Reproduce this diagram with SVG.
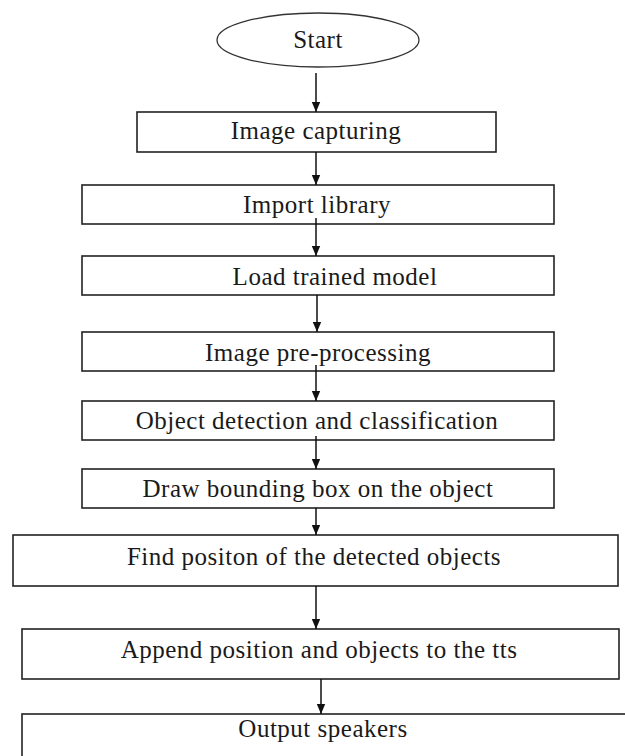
<svg xmlns="http://www.w3.org/2000/svg" width="625" height="756" viewBox="0 0 625 756">
  <defs>
    <style>
      .box { fill: #ffffff; stroke: #222222; stroke-width: 1.6; }
      .term { fill: #ffffff; stroke: #333333; stroke-width: 1.3; }
      .lbl { font-family: "Liberation Serif", "Times New Roman", serif; font-size: 25px; letter-spacing: 0.5px; fill: #1a1a1a; text-anchor: middle; }
      .conn { stroke: #111111; stroke-width: 1.5; fill: none; marker-end: url(#arrow); }
    </style>
    <marker id="arrow" markerUnits="userSpaceOnUse" markerWidth="10" markerHeight="10" viewBox="0 0 10 10" refX="10" refY="5" orient="auto">
      <path d="M0,0.8 L10,5 L0,9.2 Z" fill="#111111"/>
    </marker>
  </defs>
  <rect width="625" height="756" fill="#ffffff"/>

  <g id="start">
    <ellipse class="term" cx="318" cy="40" rx="101" ry="27"/>
    <text class="lbl" x="318" y="48">Start</text>
  </g>

  <g id="image-capturing">
    <rect class="box" x="137" y="112" width="359" height="40"/>
    <text class="lbl" x="316" y="139">Image capturing</text>
  </g>

  <g id="import-library">
    <rect class="box" x="82" y="185" width="472" height="39"/>
    <text class="lbl" x="317" y="213">Import library</text>
  </g>

  <g id="load-model">
    <rect class="box" x="82" y="256" width="472" height="39"/>
    <text class="lbl" x="335" y="285">Load trained model</text>
  </g>

  <g id="pre-processing">
    <rect class="box" x="82" y="332" width="472" height="39"/>
    <text class="lbl" x="318" y="361">Image pre-processing</text>
  </g>

  <g id="detection">
    <rect class="box" x="82" y="401" width="472" height="39"/>
    <text class="lbl" x="317" y="429">Object detection and classification</text>
  </g>

  <g id="bounding-box">
    <rect class="box" x="82" y="469" width="472" height="39"/>
    <text class="lbl" x="318" y="497">Draw bounding box on the object</text>
  </g>

  <g id="find-position">
    <rect class="box" x="13" y="535" width="605" height="51"/>
    <text class="lbl" x="314" y="565">Find positon of the detected objects</text>
  </g>

  <g id="append-tts">
    <rect class="box" x="22" y="629" width="597" height="50"/>
    <text class="lbl" x="319" y="658">Append position and objects to the tts</text>
  </g>

  <g id="output-speakers">
    <rect class="box" x="22" y="714" width="620" height="60"/>
    <text class="lbl" x="323" y="737">Output speakers</text>
  </g>

  <g id="connectors">
    <line class="conn" x1="316" y1="73" x2="316" y2="112"/>
    <line class="conn" x1="316" y1="152" x2="316" y2="185"/>
    <line class="conn" x1="316" y1="218" x2="316" y2="256"/>
    <line class="conn" x1="317" y1="295" x2="317" y2="332"/>
    <line class="conn" x1="316" y1="365" x2="316" y2="401"/>
    <line class="conn" x1="316" y1="436" x2="316" y2="469"/>
    <line class="conn" x1="316" y1="508" x2="316" y2="535"/>
    <line class="conn" x1="316" y1="586" x2="316" y2="629"/>
    <line class="conn" x1="321" y1="679" x2="321" y2="714"/>
  </g>
</svg>
